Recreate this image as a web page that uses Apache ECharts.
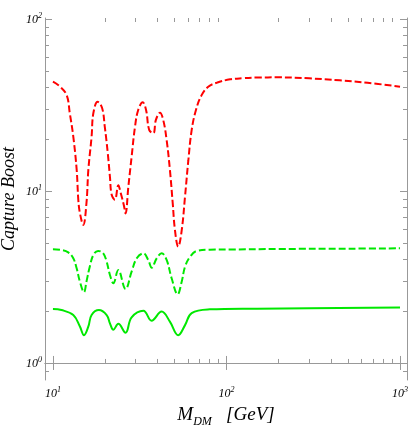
<!DOCTYPE html>
<html>
<head>
<meta charset="utf-8">
<script src="https://cdn.jsdelivr.net/npm/echarts@6/dist/echarts.min.js"></script>
<style>
  html, body { margin: 0; padding: 0; background: #fff; }
  #chart { width: 415px; height: 425px; }
</style>
</head>
<body>
<div id="chart"></div>
<script>
// capture boost vs dark matter mass, log-log

// red dashed
var redMass = [10, 11, 12, 12.5, 13.1, 13.7, 14, 14.3, 14.95, 15.6, 16, 16.7, 17.1, 18.1, 19.2, 19.9, 20.7, 21.3, 21.8, 22.75,
  23.8, 24.6, 25.6, 26.2, 27.2, 28.4, 29.7, 31, 32.9, 34.4, 35.9, 37.9, 39.2, 41.4, 43.2, 45.2, 47.2, 49, 50.5, 52.7,
  55.2, 57.7, 60.3, 63, 66.7, 71.9, 78.5, 87.8, 105, 125, 150, 200, 300, 450, 650, 1000];
var redBoost = [43.2, 40.4, 36.1, 28.4, 20.7, 13.3, 8.9, 7.45, 6.35, 8.5, 13.3, 20.7, 28.4, 33.0, 30.4, 23.6, 16.6, 12.1, 9.5, 8.9,
  10.8, 9.7, 8.3, 7.4, 10.6, 15.8, 23.6, 29.6, 32.8, 29.6, 22.6, 21.7, 25.9, 28.5, 25.9, 19.8, 13.3, 8.5, 5.9, 4.75,
  5.9, 9.3, 15.1, 22.6, 29.6, 36.1, 40.4, 42.6, 44.6, 45.3, 45.7, 45.8, 45.2, 44.0, 42.6, 40.4];

// green dashed
var gdMass = [10, 11.2, 12.25, 13.1, 13.7, 14.3, 15.1, 15.6, 16.3, 17.1, 18.2, 19.5, 20.4, 21.3, 22.3, 23.8, 26.2,
  28.4, 30.4, 33.2, 35.4, 37.1, 39.6, 42.3, 45.2, 48.3, 52.3, 55.2, 57.7, 61.7, 67.3, 80, 105, 200, 500, 1000];
var gdBoost = [4.58, 4.54, 4.40, 4.06, 3.55, 2.97, 2.58, 2.97, 3.63, 4.25, 4.48, 4.34, 3.88, 3.25, 2.91, 3.47, 2.69,
  3.40, 4.06, 4.34, 3.97, 3.58, 4.06, 4.34, 3.97, 3.11, 2.51, 2.97, 3.63, 4.15, 4.48, 4.56, 4.57, 4.60, 4.62, 4.64];

// green solid
var gsMass = [10, 11.2, 13.1, 14.3, 15.1, 16, 16.7, 18.4, 20.4, 21.3, 22.3, 23.8, 26.2, 28.4, 33.2, 37.0, 42.3, 47.2,
  52.7, 57.7, 63, 80, 150, 300, 1000];
var gsBoost = [2.06, 2.03, 1.90, 1.63, 1.45, 1.63, 1.90, 2.03, 1.90, 1.70, 1.56, 1.69, 1.50, 1.84, 2.01, 1.76, 1.99, 1.74,
  1.45, 1.66, 1.95, 2.05, 2.07, 2.08, 2.10];

// ticks
var xMajor = [10, 100, 1000];
var xMinor = [20, 30, 40, 50, 60, 70, 80, 90, 200, 300, 400, 500, 600, 700, 800, 900];
var yMajor = [1, 10, 100];
var yMinor = [0.9, 2, 3, 4, 5, 6, 7, 8, 9, 20, 30, 40, 50, 60, 70, 80, 90];

var xMin = 9.0, xMax = 1097, yMin = 0.796, yMax = 101.4;

function pairs(xs, ys) {
  return xs.map(function (x, i) { return [x, ys[i]]; });
}
function lg(arr) {
  return arr.map(function (v) { return Math.log10(v); });
}

var serif = 'Liberation Serif';
var frameColor = '#999';

var labelRich = {
  b: { fontFamily: serif, fontStyle: 'italic', fontSize: 12, color: '#000', lineHeight: 14, padding: [1, 0, 0, 0], verticalAlign: 'bottom' },
  e: { fontFamily: serif, fontStyle: 'italic', fontSize: 8, color: '#000', lineHeight: 8, verticalAlign: 'top' }
};
function powLabel(v) {
  return '{b|10}{e|' + Math.round(v) + '}';
}

// helper axis for the frame ticks (log10 space)
function tickAxis(pos, vals, len, isX, extra) {
  var ax = {
    type: 'value',
    gridIndex: 0,
    position: pos,
    min: Math.log10(isX ? xMin : yMin),
    max: Math.log10(isX ? xMax : yMax),
    axisLine: { show: false },
    axisTick: { show: true, inside: true, length: len, customValues: lg(vals), lineStyle: { color: frameColor, width: 1 } },
    axisLabel: { show: false },
    splitLine: { show: false }
  };
  return Object.assign(ax, extra || {});
}

var myChart = echarts.init(document.getElementById('chart'));

var option = {
  animation: false,
  backgroundColor: '#fff',
  grid: { left: 45, right: 8, top: 18, bottom: 45, containLabel: false, outerBoundsMode: 'none' },
  xAxis: [
    { type: 'log', min: xMin, max: xMax, show: false },
    tickAxis('bottom', xMajor, 7, true, {
      axisLine: { show: true, lineStyle: { color: frameColor, width: 1 } },
      axisLabel: { show: true, customValues: lg(xMajor), margin: 6, formatter: powLabel, rich: labelRich },
      name: '{m|M}{s|DM}{g|   [GeV]}',
      nameLocation: 'middle',
      nameGap: 25,
      nameMoveOverlap: false,
      nameTextStyle: {
        rich: {
          m: { fontFamily: serif, fontStyle: 'italic', fontSize: 19, color: '#000', lineHeight: 22, verticalAlign: 'top' },
          s: { fontFamily: serif, fontStyle: 'italic', fontSize: 12, color: '#000', lineHeight: 12, padding: [11, 0, 0, 0], verticalAlign: 'top' },
          g: { fontFamily: serif, fontStyle: 'italic', fontSize: 19, color: '#000', lineHeight: 22, verticalAlign: 'top' }
        }
      }
    }),
    tickAxis('bottom', xMinor, 4, true),
    tickAxis('top', xMajor, 7, true, { axisLine: { show: true, lineStyle: { color: frameColor, width: 1 } } }),
    tickAxis('top', xMinor, 4, true)
  ],
  yAxis: [
    { type: 'log', min: yMin, max: yMax, show: false },
    tickAxis('left', yMajor, 7, false, {
      axisLine: { show: true, lineStyle: { color: frameColor, width: 1 } },
      axisLabel: { show: true, customValues: lg(yMajor), margin: 3, formatter: powLabel, rich: labelRich },
      name: 'Capture Boost',
      nameLocation: 'middle',
      nameRotate: 90,
      nameGap: 27,
      nameMoveOverlap: false,
      nameTextStyle: { fontFamily: serif, fontStyle: 'italic', fontSize: 18, color: '#000' }
    }),
    tickAxis('left', yMinor, 4, false),
    tickAxis('right', yMajor, 7, false, { axisLine: { show: true, lineStyle: { color: frameColor, width: 1 } } }),
    tickAxis('right', yMinor, 4, false)
  ],
  series: [
    {
      name: 'red',
      type: 'line',
      xAxisIndex: 0, yAxisIndex: 0,
      data: pairs(redMass, redBoost),
      smooth: 0.4,
      showSymbol: false,
      lineStyle: { color: '#ff0000', width: 2, type: [7, 3] }
    },
    {
      name: 'green dashed',
      type: 'line',
      xAxisIndex: 0, yAxisIndex: 0,
      data: pairs(gdMass, gdBoost),
      smooth: 0.4,
      showSymbol: false,
      lineStyle: { color: '#00e800', width: 2, type: [7, 3] }
    },
    {
      name: 'green solid',
      type: 'line',
      xAxisIndex: 0, yAxisIndex: 0,
      data: pairs(gsMass, gsBoost),
      smooth: 0.4,
      showSymbol: false,
      lineStyle: { color: '#00e800', width: 2 }
    }
  ]
};

myChart.setOption(option);
</script>
</body>
</html>
